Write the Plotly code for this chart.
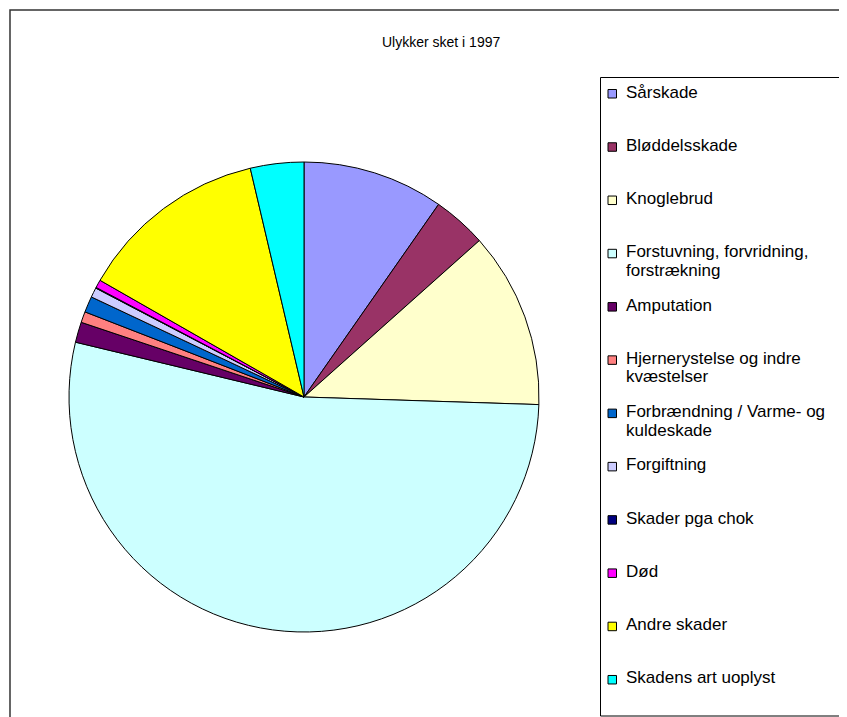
import plotly.graph_objects as go

OFF = 8  # default page margin around the plot div
W, H = 847 - OFF, 717 - OFF

labels = ["Sårskade", "Bløddelsskade", "Knoglebrud",
          "Forstuvning, forvridning, forstrækning", "Amputation",
          "Hjernerystelse og indre kvæstelser",
          "Forbrændning / Varme- og kuldeskade", "Forgiftning",
          "Skader pga chok", "Død", "Andre skader", "Skadens art uoplyst"]
legend_lines = [["Sårskade"], ["Bløddelsskade"], ["Knoglebrud"],
                ["Forstuvning, forvridning,", "forstrækning"], ["Amputation"],
                ["Hjernerystelse og indre", "kvæstelser"],
                ["Forbrændning / Varme- og", "kuldeskade"], ["Forgiftning"],
                ["Skader pga chok"], ["Død"], ["Andre skader"], ["Skadens art uoplyst"]]
values = [9.7, 3.7, 12.1, 53.2, 1.4, 0.75, 1.1, 0.67, 0.05, 0.55, 13.05, 3.67]
colors = ["#9999FF", "#993366", "#FFFFCC", "#CCFFFF", "#660066", "#FF8080",
          "#0066CC", "#CCCCFF", "#000080", "#FF00FF", "#FFFF00", "#00FFFF"]
title = "Ulykker sket i 1997"

def px(x):
    return (x - OFF) / W

def py(y):
    return 1 - (y - OFF) / H

cx, cy, r = 304, 397, 235

fig = go.Figure(go.Pie(
    labels=labels, values=values, sort=False, direction="clockwise", rotation=0,
    marker=dict(colors=colors, line=dict(color="#000000", width=1)),
    textinfo="none", showlegend=False,
    domain=dict(x=[px(cx - r), px(cx + r)], y=[py(cy + r), py(cy - r)]),
))

def openpath(points, color, width):
    d = "M " + " L ".join(f"{px(x):.5f},{py(y):.5f}" for x, y in points)
    return dict(type="path", xref="paper", yref="paper", path=d,
                line=dict(color=color, width=width), fillcolor="rgba(0,0,0,0)")

shapes = [
    openpath([(10, 760), (10, 10), (900, 10)], "#333333", 1.5),
    openpath([(900, 77.5), (600.5, 77.5), (600.5, 716), (900, 716)], "#000000", 1),
]
annotations = [dict(text=title, x=px(441), y=py(42), xref="paper", yref="paper",
                    showarrow=False, xanchor="center", yanchor="middle",
                    font=dict(family="Liberation Sans, Arial", size=14, color="#000000"))]

step = 53.27
for i, (lines, col) in enumerate(zip(legend_lines, colors)):
    c = 92 + step * i
    base = c + 6
    shapes.append(dict(type="rect", xref="paper", yref="paper",
                       x0=px(608), x1=px(616.5), y0=py(base - 8.5), y1=py(base),
                       line=dict(color="#000000", width=1), fillcolor=col))
    for j, t in enumerate(lines):
        annotations.append(dict(text=t, x=px(624), y=py(c + j * 18.4), xref="paper", yref="paper",
                                showarrow=False, xanchor="left", yanchor="middle",
                                font=dict(family="Liberation Sans, Arial", size=17, color="#000000")))

fig.update_layout(width=W, height=H, margin=dict(l=0, r=0, t=0, b=0),
                  paper_bgcolor="white", plot_bgcolor="white",
                  shapes=shapes, annotations=annotations, showlegend=False)

fig.write_html("out.html")
